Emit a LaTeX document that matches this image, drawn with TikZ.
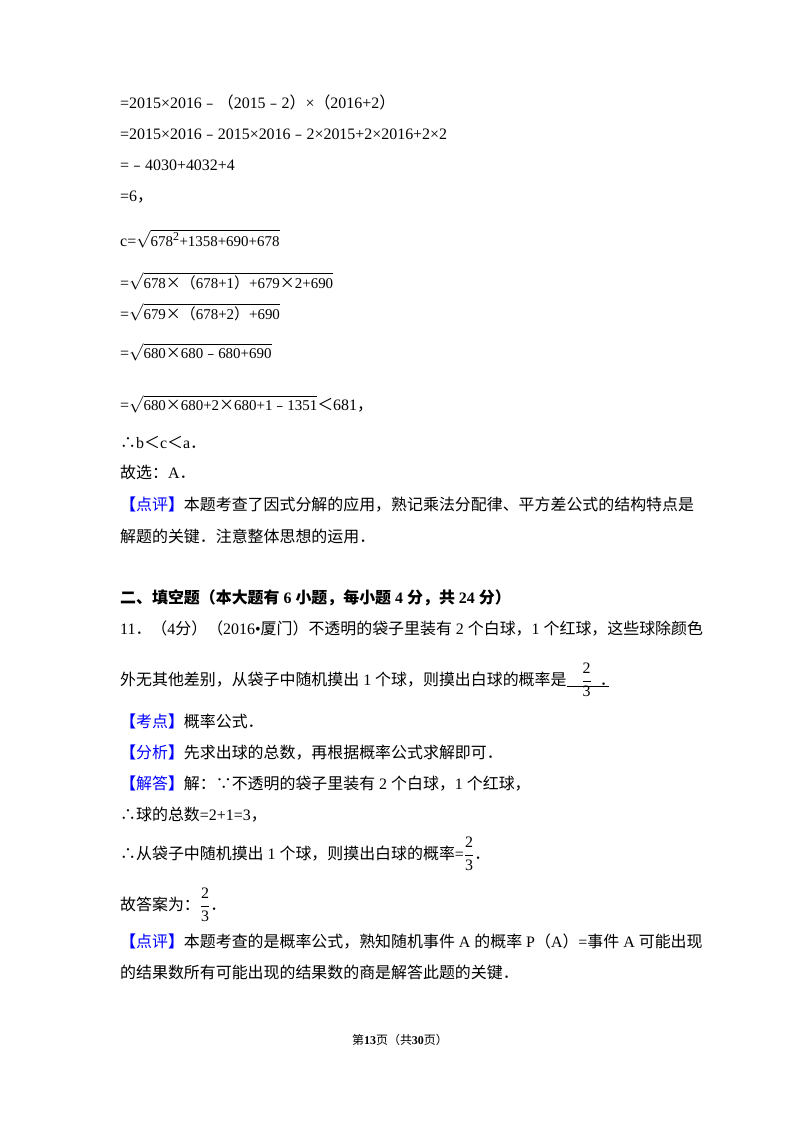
\documentclass[tikz,border=0pt]{standalone}
\usepackage{fontspec}
\setmainfont{Liberation Serif}
\newfontfamily\cjk{Noto Sans CJK SC}
\newcommand{\zh}[1]{{\cjk #1}}
\newcommand{\lab}[1]{{\color{blue}\cjk\bfseries 【\mdseries #1\bfseries 】}}
\newcommand{\rt}[1]{$\sqrt{\hbox{\fontsize{15}{15}\selectfont #1}}$}
\newcommand{\fr}{$\displaystyle\frac{\hbox{2}}{\hbox{3}}$}
\begin{document}
\begin{tikzpicture}[x=1bp,y=-1bp,
  t/.style={anchor=base west,inner sep=0pt,font=\fontsize{16}{16}\selectfont}]
\useasboundingbox (0,0) rectangle (800,1132);
\fill[white] (0,0) rectangle (800,1132);
\node[t] (l1) at (120,108) {=2015×2016\zh{﹣（}2015\zh{﹣}2\zh{）}×\zh{（}2016+2\zh{）}};
\node[t] (l2) at (120,139) {=2015×2016\zh{﹣}2015×2016\zh{﹣}2×2015+2×2016+2×2};
\node[t] (l3) at (120,170) {=\zh{﹣}4030+4032+4};
\node[t] (l4) at (120,201) {=6\zh{，}};
\node[t] (l5) at (120,246) {c=\rt{678$^{\hbox{\fontsize{12}{12}\selectfont 2}}$+1358+690+678}};
\node[t] (l6) at (120,288) {=\rt{678\zh{×（}678+1\zh{）}+679\zh{×}2+690}};
\node[t] (l7) at (120,319) {=\rt{679\zh{×（}678+2\zh{）}+690}};
\node[t] (l8) at (120,358) {=\rt{680\zh{×}680\zh{﹣}680+690}};
\node[t] (l9) at (120,410) {=\rt{680\zh{×}680+2\zh{×}680+1\zh{﹣}1351}\zh{＜}681\zh{，}};
\node[t] (l10) at (120,448) {\zh{∴}b\zh{＜}c\zh{＜}a\zh{．}};
\node[t] (l11) at (120,478) {\zh{故选：}A\zh{．}};
\node[t] (l12) at (120,510) {\lab{点评}\zh{本题考查了因式分解的应用，熟记乘法分配律、平方差公式的结构特点是}};
\node[t] (l13) at (120,542) {\zh{解题的关键．注意整体思想的运用．}};
\node[t] (l14) at (120,603) {\bfseries\zh{二、填空题（本大题有} 6 \zh{小题，每小题} 4 \zh{分，共} 24 \zh{分）}};
\node[t] (l15) at (120,634) {11\zh{．（}4\zh{分）（}2016•\zh{厦门）不透明的袋子里装有} 2 \zh{个白球，}1 \zh{个红球，这些球除颜色}};
\node[t] (l16) at (120,685) {\zh{外无其他差别，从袋子中随机摸出} 1 \zh{个球，则摸出白球的概率是}\rlap{\rule[-1.5pt]{42bp}{0.6pt}}\hspace{15bp}\fr\hspace{8bp}\zh{．}};
\node[t] (l17) at (120,727) {\lab{考点}\zh{概率公式．}};
\node[t] (l18) at (120,758) {\lab{分析}\zh{先求出球的总数，再根据概率公式求解即可．}};
\node[t] (l19) at (120,789) {\lab{解答}\zh{解：∵不透明的袋子里装有} 2 \zh{个白球，}1 \zh{个红球，}};
\node[t] (l20) at (120,820) {\zh{∴球的总数}=2+1=3\zh{，}};
\node[t] (l21) at (120,859) {\zh{∴从袋子中随机摸出} 1 \zh{个球，则摸出白球的概率}=\fr\zh{．}};
\node[t] (l22) at (120,910) {\zh{故答案为：}\fr\zh{．}};
\node[t] (l23) at (120,947) {\lab{点评}\zh{本题考查的是概率公式，熟知随机事件} A \zh{的概率} P\zh{（}A\zh{）}=\zh{事件} A \zh{可能出现}};
\node[t] (l24) at (120,978) {\zh{的结果数所有可能出现的结果数的商是解答此题的关键．}};
\node[anchor=base,inner sep=0pt,font=\fontsize{12}{12}\selectfont] (ft) at (400,1044) {\zh{第}\textbf{13}\zh{页（共}\textbf{30}\zh{页）}};
\end{tikzpicture}
\end{document}
